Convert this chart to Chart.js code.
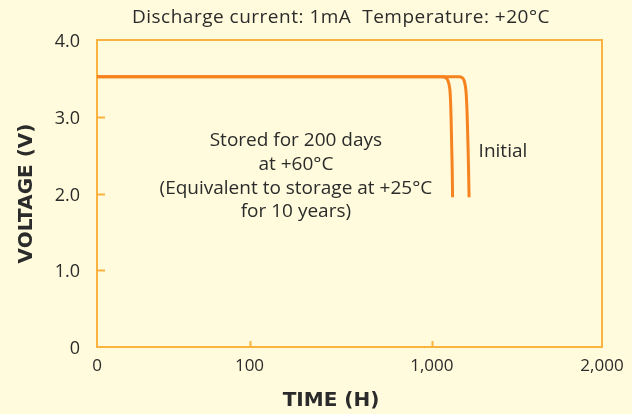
<!DOCTYPE html>
<html>
<head>
<meta charset="utf-8">
<script src="https://cdn.jsdelivr.net/npm/chart.js@4/dist/chart.umd.min.js"></script>
<style>
  html, body { margin: 0; padding: 0; background: #fffbdc; }
  #wrap { width: 632px; height: 414px; }
</style>
</head>
<body>
<div id="wrap"><canvas id="dischargeChart"></canvas></div>
<script>
// Tick values on the time axis (the axis is not linear, see PiecewiseScale)
const timeTicks = [0, 100, 1000, 2000];
const voltageTicks = [0, 1, 2, 3, 4];

// Curves: hours vs volts
const storedHours = [0, 1000, 1060, 1080, 1095, 1103, 1108, 1113, 1117, 1120, 1122];
const storedVolts = [3.52, 3.52, 3.52, 3.51, 3.47, 3.40, 3.30, 3.00, 2.60, 2.30, 1.95];

const initialHours = [0, 1000, 1160, 1178, 1190, 1197, 1202, 1208, 1213, 1216, 1219];
const initialVolts = [3.52, 3.52, 3.52, 3.51, 3.47, 3.40, 3.30, 3.00, 2.60, 2.30, 1.95];

// where each time tick sits along the axis, 0..1
const timeStops = [0, 0.302, 0.663, 1];

const lineColor = '#f7831f';
const frameColor = '#fbb33f';
const textColor = '#2b2b2b';
const fontFamily = '"Open Sans", "Noto Sans", sans-serif';
const boldFamily = '"DejaVu Sans", sans-serif';

// Linear axis made of pieces, one per interval between ticks
class PiecewiseScale extends Chart.LinearScale {
    toDecimal(v) {
        for (let i = 1; i < timeTicks.length; i++) {
            if (v <= timeTicks[i] || i === timeTicks.length - 1) {
                const t = (v - timeTicks[i - 1]) / (timeTicks[i] - timeTicks[i - 1]);
                return timeStops[i - 1] + t * (timeStops[i] - timeStops[i - 1]);
            }
        }
    }
    getPixelForValue(value) {
        if (value === null || value === undefined) return NaN;
        return this.getPixelForDecimal(this.toDecimal(value));
    }
    getValueForPixel(pixel) {
        const d = this.getDecimalForPixel(pixel);
        for (let i = 1; i < timeStops.length; i++) {
            if (d <= timeStops[i] || i === timeStops.length - 1) {
                const t = (d - timeStops[i - 1]) / (timeStops[i] - timeStops[i - 1]);
                return timeTicks[i - 1] + t * (timeTicks[i] - timeTicks[i - 1]);
            }
        }
    }
    buildTicks() {
        return timeTicks.map(v => ({ value: v }));
    }
}
PiecewiseScale.id = 'piecewise';
PiecewiseScale.defaults = Chart.LinearScale.defaults;
Chart.register(PiecewiseScale);

// Frame round the plot, inner tick marks and the notes
const decorPlugin = {
    id: 'decor',
    beforeDatasetsDraw(chart) {
        const { ctx, chartArea: a, scales: { x, y } } = chart;
        ctx.save();
        ctx.strokeStyle = frameColor;
        ctx.lineWidth = 2;
        ctx.strokeRect(a.left, a.top, a.right - a.left, a.bottom - a.top);
        ctx.beginPath();
        timeTicks.slice(1, -1).forEach(v => {
            const px = Math.round(x.getPixelForValue(v)) + 0.5;
            ctx.moveTo(px, a.bottom);
            ctx.lineTo(px, a.bottom - 6);
        });
        voltageTicks.slice(1, -1).forEach(v => {
            const py = Math.round(y.getPixelForValue(v)) + 0.5;
            ctx.moveTo(a.left, py);
            ctx.lineTo(a.left + 8, py);
        });
        ctx.stroke();
        ctx.restore();
    },
    afterDraw(chart) {
        const { ctx, scales: { x, y } } = chart;
        ctx.save();
        ctx.fillStyle = textColor;
        ctx.textAlign = 'center';
        ctx.textBaseline = 'middle';

        ctx.font = '19px ' + fontFamily;
        ctx.letterSpacing = '0.5px';
        ctx.fillText('Discharge current: 1mA  Temperature: +20\u00B0C', 341, 18);
        ctx.letterSpacing = '0px';

        ctx.font = '19px ' + fontFamily;
        const cx = x.getPixelForValue(329);
        ['Stored for 200 days', 'at +60\u00B0C', '(Equivalent to storage at +25\u00B0C', 'for 10 years)']
            .forEach((line, i) => ctx.fillText(line, cx, y.getPixelForValue(2.69 - i * 0.31)));
        ctx.fillText('Initial', x.getPixelForValue(1418), y.getPixelForValue(2.54));

        ctx.font = 'bold 20px ' + boldFamily;
        ctx.fillText('TIME (H)', 331, 401);
        ctx.restore();
    }
};

new Chart(document.getElementById('dischargeChart'), {
    type: 'line',
    data: {
        datasets: [{
            label: 'Initial',
            data: initialHours.map((h, i) => ({ x: h, y: initialVolts[i] })),
            borderColor: lineColor,
            borderWidth: 3,
            pointRadius: 0,
            cubicInterpolationMode: 'monotone'
        }, {
            label: 'Stored for 200 days at +60\u00B0C',
            data: storedHours.map((h, i) => ({ x: h, y: storedVolts[i] })),
            borderColor: lineColor,
            borderWidth: 3,
            pointRadius: 0,
            cubicInterpolationMode: 'monotone'
        }]
    },
    options: {
        responsive: true,
        maintainAspectRatio: false,
        animation: false,
        events: [],
        layout: {
            padding: { top: 40, right: 30, left: 0, bottom: 0 }
        },
        plugins: {
            legend: { display: false },
            title: { display: false },
            tooltip: { enabled: false }
        },
        scales: {
            x: {
                type: 'piecewise',
                min: 0,
                max: 2000,
                grid: { display: false },
                border: { display: false },
                ticks: {
                    padding: 1,
                    color: textColor,
                    font: { family: fontFamily, size: 17 },
                    maxRotation: 0,
                    autoSkip: false,
                    callback: value => value.toLocaleString('en-US')
                },
                afterFit: scale => { scale.height = 67; }
            },
            y: {
                min: 0,
                max: 4,
                grid: { display: false },
                border: { display: false },
                afterBuildTicks: scale => { scale.ticks = voltageTicks.map(v => ({ value: v })); },
                ticks: {
                    padding: 9,
                    labelOffset: 2,
                    color: textColor,
                    font: { family: fontFamily, size: 18 },
                    callback: value => value === 0 ? '0' : value.toFixed(1)
                },
                title: {
                    display: true,
                    text: 'VOLTAGE (V)',
                    color: textColor,
                    font: { family: boldFamily, size: 20, weight: 'bold' },
                    padding: { top: 15, bottom: 0 }
                },
                afterFit: scale => { scale.width = 97; }
            }
        }
    },
    plugins: [decorPlugin]
});
</script>
</body>
</html>
